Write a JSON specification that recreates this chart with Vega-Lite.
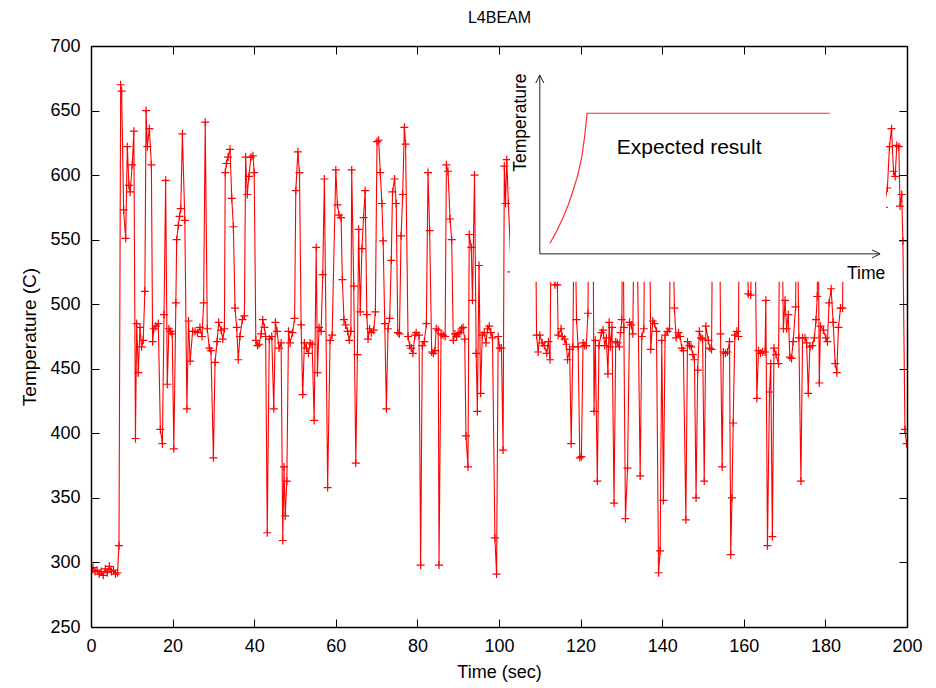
{
  "$schema": "https://vega.github.io/schema/vega-lite/v6.json",
  "width": 816,
  "height": 581,
  "autosize": {"type": "none"},
  "padding": {"left": 91, "top": 46, "right": 29, "bottom": 61},
  "background": "white",
  "config": {
    "view": {"stroke": null},
    "font": "Liberation Sans",
    "axis": {
      "domainColor": "black", "domainWidth": 1.5, "tickColor": "black", "tickWidth": 1,
      "tickSize": -8, "labelFontSize": 18, "titleFontSize": 18, "titleFontWeight": "normal",
      "labelColor": "black", "titleColor": "black", "grid": false,
      "labelFlush": false, "labelOverlap": false, "labelBound": false
    }
  },
  "resolve": {"axis": {"x": "independent", "y": "independent"}},
  "datasets": {
    "series": [
      {"t":0.0,"T":292},{"t":0.5,"T":296},{"t":1.0,"T":293},{"t":1.5,"T":294},{"t":2.0,"T":291},{"t":2.5,"T":293},{"t":3.0,"T":290},{"t":3.5,"T":295},{"t":4.0,"T":292},{"t":4.5,"T":297},{"t":5.0,"T":293},{"t":5.5,"T":294},{"t":6.0,"T":291},{"t":6.5,"T":292},
      {"t":6.86,"T":313},{"t":7.27,"T":670},{"t":7.5,"T":665},{"t":8.0,"T":573},{"t":8.5,"T":551},{"t":8.9,"T":622},{"t":9.3,"T":592},{"t":9.6,"T":587},{"t":10.1,"T":608},{"t":10.5,"T":634},
      {"t":10.9,"T":396},{"t":11.2,"T":485},{"t":11.6,"T":447},{"t":12.0,"T":482},{"t":12.4,"T":467},{"t":12.8,"T":472},{"t":13.2,"T":510},{"t":13.5,"T":650},{"t":13.8,"T":622},{"t":14.3,"T":636},
      {"t":14.8,"T":608},{"t":15.1,"T":471},{"t":15.4,"T":481},{"t":15.9,"T":483},{"t":16.5,"T":485},{"t":17.0,"T":403},{"t":17.5,"T":392},{"t":17.9,"T":492},{"t":18.3,"T":596},{"t":18.7,"T":438},
      {"t":19.1,"T":481},{"t":19.5,"T":479},{"t":19.9,"T":477},{"t":20.3,"T":388},{"t":20.8,"T":501},{"t":21.0,"T":550},{"t":21.4,"T":561},{"t":21.7,"T":568},{"t":22.0,"T":574},{"t":22.4,"T":632},
      {"t":23.0,"T":565},{"t":23.5,"T":419},{"t":23.9,"T":487},{"t":24.3,"T":456},{"t":24.9,"T":479},{"t":25.5,"T":479},{"t":26.1,"T":478},{"t":26.7,"T":482},{"t":27.2,"T":475},{"t":27.6,"T":501},
      {"t":28.0,"T":641},{"t":28.5,"T":481},{"t":29.0,"T":466},{"t":29.4,"T":464},{"t":30.0,"T":381},{"t":30.4,"T":455},{"t":30.9,"T":471},{"t":31.3,"T":486},{"t":31.9,"T":480},{"t":32.3,"T":473},
      {"t":32.7,"T":481},{"t":32.9,"T":602},{"t":33.2,"T":609},{"t":33.6,"T":614},{"t":34.07,"T":620},{"t":34.5,"T":582},{"t":34.9,"T":560},{"t":35.3,"T":497},{"t":35.7,"T":482},{"t":36.1,"T":457},
      {"t":36.5,"T":475},{"t":37.1,"T":488},{"t":37.6,"T":491},{"t":37.9,"T":614},{"t":38.3,"T":585},{"t":38.7,"T":599},{"t":39.2,"T":614},{"t":39.7,"T":615},{"t":40.0,"T":602},{"t":40.4,"T":472},
      {"t":40.8,"T":468},{"t":41.2,"T":469},{"t":41.7,"T":477},{"t":42.1,"T":488},{"t":42.5,"T":482},{"t":42.8,"T":475},{"t":43.2,"T":323},{"t":43.7,"T":473},{"t":44.3,"T":475},{"t":44.8,"T":419},
      {"t":45.2,"T":486},{"t":45.6,"T":479},{"t":46.1,"T":466},{"t":46.6,"T":470},{"t":47.0,"T":317},{"t":47.3,"T":374},{"t":47.6,"T":336},{"t":48.0,"T":363},{"t":48.4,"T":479},{"t":48.8,"T":470},
      {"t":49.4,"T":478},{"t":49.9,"T":489},{"t":50.2,"T":588},{"t":50.7,"T":618},{"t":51.1,"T":602},{"t":51.5,"T":484},{"t":51.9,"T":430},{"t":52.3,"T":470},{"t":52.8,"T":466},{"t":53.3,"T":462},
      {"t":53.7,"T":470},{"t":54.2,"T":469},{"t":54.7,"T":410},{"t":55.2,"T":544},{"t":55.5,"T":447},{"t":55.9,"T":482},{"t":56.4,"T":479},{"t":56.8,"T":523},{"t":57.2,"T":597},{"t":58.0,"T":358},
      {"t":58.6,"T":472},{"t":59.1,"T":476},{"t":60.0,"T":604},{"t":60.4,"T":577},{"t":60.8,"T":569},{"t":61.3,"T":567},{"t":61.6,"T":519},{"t":62.0,"T":488},{"t":62.4,"T":484},{"t":62.9,"T":479},
      {"t":63.3,"T":472},{"t":63.7,"T":479},{"t":63.9,"T":604},{"t":64.4,"T":514},{"t":64.9,"T":377},{"t":65.3,"T":461},{"t":65.6,"T":558},{"t":66.0,"T":494},{"t":66.4,"T":543},{"t":66.8,"T":567},
      {"t":67.2,"T":588},{"t":67.6,"T":492},{"t":67.9,"T":473},{"t":68.3,"T":481},{"t":68.7,"T":478},{"t":69.3,"T":480},{"t":69.7,"T":494},{"t":70.1,"T":626},{"t":70.5,"T":627},{"t":70.9,"T":602},
      {"t":71.3,"T":578},{"t":71.6,"T":549},{"t":72.0,"T":485},{"t":72.4,"T":419},{"t":72.8,"T":481},{"t":73.2,"T":489},{"t":73.6,"T":534},{"t":73.9,"T":587},{"t":74.4,"T":597},{"t":74.8,"T":578},
      {"t":75.2,"T":478},{"t":75.6,"T":477},{"t":76.0,"T":553},{"t":76.4,"T":585},{"t":76.8,"T":637},{"t":77.1,"T":624},{"t":77.7,"T":475},{"t":78.1,"T":468},{"t":78.5,"T":466},{"t":78.9,"T":462},
      {"t":79.4,"T":476},{"t":79.7,"T":478},{"t":80.4,"T":476},{"t":80.8,"T":298},{"t":81.2,"T":468},{"t":81.7,"T":471},{"t":82.2,"T":485},{"t":82.6,"T":602},{"t":83.0,"T":557},{"t":83.5,"T":463},
      {"t":83.9,"T":462},{"t":84.3,"T":464},{"t":84.6,"T":481},{"t":85.1,"T":480},{"t":85.3,"T":298},{"t":85.8,"T":477},{"t":86.3,"T":476},{"t":86.8,"T":475},{"t":87.1,"T":608},{"t":87.5,"T":603},
      {"t":88.0,"T":566},{"t":88.4,"T":550},{"t":88.8,"T":472},{"t":89.2,"T":477},{"t":89.6,"T":475},{"t":90.0,"T":477},{"t":90.4,"T":478},{"t":90.8,"T":481},{"t":91.2,"T":482},{"t":91.6,"T":473},
      {"t":91.9,"T":398},{"t":92.4,"T":374},{"t":92.7,"T":554},{"t":93.2,"T":544},{"t":93.5,"T":503},{"t":94.0,"T":600},{"t":94.4,"T":462},{"t":94.7,"T":417},{"t":95.1,"T":530},{"t":95.5,"T":431},
      {"t":95.9,"T":476},{"t":96.4,"T":478},{"t":96.8,"T":470},{"t":97.2,"T":481},{"t":97.6,"T":483},{"t":98.0,"T":478},{"t":98.4,"T":474},{"t":99.0,"T":319},{"t":99.4,"T":291},{"t":99.8,"T":475},
      {"t":100.2,"T":466},{"t":100.6,"T":466},{"t":101.0,"T":387},{"t":101.3,"T":607},{"t":101.6,"T":578},{"t":101.9,"T":612},{"t":102.3,"T":578},{"t":103.0,"T":525},{"t":103.5,"T":590},{"t":104.5,"T":600},
      {"t":105.5,"T":560},{"t":106.5,"T":610},{"t":107.5,"T":580},{"t":108.5,"T":600},{"t":109.0,"T":560},{"t":109.2,"T":476},{"t":109.6,"T":463},{"t":110.0,"T":476},{"t":110.6,"T":470},{"t":111.1,"T":468},
      {"t":111.7,"T":462},{"t":112.1,"T":471},{"t":112.5,"T":457},{"t":112.9,"T":600},{"t":113.7,"T":515},{"t":114.3,"T":515},{"t":114.5,"T":476},{"t":115.2,"T":481},{"t":115.5,"T":475},{"t":116.1,"T":473},
      {"t":116.5,"T":469},{"t":116.8,"T":457},{"t":117.3,"T":465},{"t":117.7,"T":392},{"t":118.1,"T":467},{"t":118.5,"T":600},{"t":119.0,"T":488},{"t":119.4,"T":467},{"t":119.8,"T":381},{"t":120.2,"T":382},
      {"t":120.6,"T":470},{"t":121.0,"T":468},{"t":121.4,"T":468},{"t":121.8,"T":493},{"t":122.1,"T":600},{"t":122.6,"T":560},{"t":123.0,"T":600},{"t":123.3,"T":417},{"t":123.6,"T":472},{"t":124.1,"T":363},
      {"t":124.5,"T":468},{"t":125.1,"T":478},{"t":125.5,"T":480},{"t":125.9,"T":468},{"t":126.3,"T":474},{"t":126.7,"T":446},{"t":127.0,"T":486},{"t":127.3,"T":467},{"t":127.7,"T":482},{"t":128.2,"T":346},
      {"t":128.6,"T":471},{"t":129.0,"T":470},{"t":129.5,"T":467},{"t":129.8,"T":478},{"t":130.1,"T":488},{"t":130.4,"T":600},{"t":130.6,"T":482},{"t":131.0,"T":334},{"t":131.5,"T":373},{"t":132.0,"T":486},
      {"t":132.4,"T":484},{"t":132.8,"T":477},{"t":133.2,"T":600},{"t":133.8,"T":570},{"t":134.6,"T":367},{"t":135.0,"T":475},{"t":135.5,"T":481},{"t":135.8,"T":600},{"t":136.3,"T":560},{"t":136.8,"T":600},
      {"t":137.2,"T":465},{"t":137.7,"T":487},{"t":138.1,"T":485},{"t":138.6,"T":479},{"t":139.1,"T":292},{"t":139.5,"T":309},{"t":139.9,"T":472},{"t":140.3,"T":348},{"t":140.7,"T":476},{"t":141.3,"T":479},
      {"t":141.8,"T":481},{"t":142.1,"T":600},{"t":142.5,"T":580},{"t":143.0,"T":497},{"t":143.4,"T":474},{"t":144.0,"T":478},{"t":144.4,"T":475},{"t":144.8,"T":466},{"t":145.2,"T":464},{"t":145.8,"T":333},
      {"t":146.2,"T":471},{"t":146.7,"T":468},{"t":147.1,"T":467},{"t":147.5,"T":461},{"t":147.9,"T":457},{"t":148.3,"T":350},{"t":148.7,"T":449},{"t":149.1,"T":479},{"t":149.5,"T":474},{"t":149.9,"T":473},
      {"t":150.3,"T":363},{"t":150.7,"T":483},{"t":151.3,"T":472},{"t":151.7,"T":466},{"t":152.1,"T":465},{"t":152.4,"T":600},{"t":153.2,"T":580},{"t":154.0,"T":600},{"t":154.3,"T":477},{"t":154.7,"T":374},
      {"t":155.0,"T":463},{"t":155.5,"T":462},{"t":156.0,"T":463},{"t":156.5,"T":471},{"t":156.8,"T":306},{"t":157.1,"T":350},{"t":157.4,"T":408},{"t":157.8,"T":476},{"t":158.3,"T":479},{"t":158.7,"T":475},
      {"t":158.9,"T":600},{"t":159.6,"T":570},{"t":160.4,"T":600},{"t":161.1,"T":508},{"t":161.7,"T":507},{"t":162.2,"T":600},{"t":162.7,"T":580},{"t":163.2,"T":427},{"t":163.6,"T":464},{"t":164.1,"T":462},
      {"t":164.6,"T":463},{"t":165.2,"T":463},{"t":165.4,"T":503},{"t":165.8,"T":313},{"t":166.3,"T":432},{"t":166.6,"T":454},{"t":167.0,"T":320},{"t":167.4,"T":466},{"t":167.9,"T":461},{"t":168.5,"T":454},
      {"t":168.9,"T":600},{"t":169.3,"T":580},{"t":169.7,"T":481},{"t":170.1,"T":503},{"t":170.5,"T":481},{"t":170.9,"T":492},{"t":171.3,"T":459},{"t":171.7,"T":458},{"t":172.1,"T":471},{"t":172.7,"T":498},
      {"t":173.0,"T":600},{"t":173.5,"T":474},{"t":174.0,"T":363},{"t":174.4,"T":474},{"t":175.0,"T":474},{"t":175.4,"T":470},{"t":175.8,"T":431},{"t":176.2,"T":467},{"t":176.8,"T":468},{"t":177.3,"T":474},
      {"t":177.7,"T":488},{"t":178.0,"T":506},{"t":178.2,"T":590},{"t":178.5,"T":439},{"t":178.8,"T":483},{"t":179.5,"T":480},{"t":180.1,"T":474},{"t":180.5,"T":471},{"t":180.9,"T":501},{"t":181.4,"T":512},
      {"t":181.9,"T":486},{"t":182.4,"T":454},{"t":182.8,"T":447},{"t":183.2,"T":482},{"t":183.7,"T":497},{"t":184.2,"T":497},{"t":184.6,"T":600},{"t":185.5,"T":620},{"t":186.5,"T":590},{"t":187.5,"T":610},
      {"t":188.5,"T":600},{"t":189.5,"T":630},{"t":190.5,"T":600},{"t":191.5,"T":615},{"t":192.5,"T":590},{"t":193.5,"T":610},{"t":194.3,"T":575},{"t":195.2,"T":590},{"t":195.7,"T":622},{"t":196.2,"T":636},
      {"t":196.7,"T":603},{"t":197.1,"T":599},{"t":197.5,"T":623},{"t":198.0,"T":622},{"t":198.3,"T":576},{"t":198.7,"T":585},{"t":199.0,"T":549},{"t":199.5,"T":403},{"t":199.9,"T":392}
    ]
  },
  "layer": [
    {
      "data": {"name": "series"},
      "mark": {"type": "line", "color": "#ff0000", "strokeWidth": 1.1, "clip": true},
      "encoding": {
        "x": {"field": "t", "type": "quantitative", "scale": {"domain": [0, 200], "nice": false, "zero": false},
          "axis": {"orient": "bottom", "zindex": 1, "values": [0,20,40,60,80,100,120,140,160,180,200], "labelPadding": 18, "title": "Time (sec)", "titlePadding": 8}},
        "y": {"field": "T", "type": "quantitative", "scale": {"domain": [250, 700], "nice": false, "zero": false},
          "axis": {"orient": "left", "zindex": 1, "values": [250,300,350,400,450,500,550,600,650,700], "labelPadding": 19, "title": "Temperature (C)", "titleFontSize": 19, "titlePadding": 10}}
      }
    },
    {
      "data": {"name": "series"},
      "mark": {"type": "point", "shape": "M-1,0H1M0,-1V1", "size": 64, "filled": false, "stroke": "#ff0000", "strokeWidth": 1.2, "opacity": 1, "clip": true},
      "encoding": {
        "x": {"field": "t", "type": "quantitative", "axis": {"orient": "top", "zindex": 1, "values": [0,20,40,60,80,100,120,140,160,180,200], "labels": false, "title": "L4BEAM", "titleFontSize": 16, "titlePadding": 20}},
        "y": {"field": "T", "type": "quantitative", "axis": {"orient": "right", "zindex": 1, "values": [250,300,350,400,450,500,550,600,650,700], "labels": false, "title": null}}
      }
    },
    {
      "data": {"values": [{"x1": 102.7, "x2": 194.85, "y1": 517.4, "y2": 700}]},
      "mark": {"type": "rect", "fill": "white", "stroke": null},
      "encoding": {
        "x": {"field": "x1", "type": "quantitative", "axis": null},
        "x2": {"field": "x2"},
        "y": {"field": "y1", "type": "quantitative", "axis": null},
        "y2": {"field": "y2"}
      }
    },
    {
      "data": {"values": [{"x1": 110, "x2": 110, "y1": 539, "y2": 677.5}, {"x1": 110, "x2": 193.4, "y1": 539, "y2": 539}]},
      "mark": {"type": "rule", "color": "#222222", "strokeWidth": 1},
      "encoding": {
        "x": {"field": "x1", "type": "quantitative", "axis": null},
        "x2": {"field": "x2"},
        "y": {"field": "y1", "type": "quantitative", "axis": null},
        "y2": {"field": "y2"}
      }
    },
    {
      "data": {"values": [{"x": 110, "y": 677.5, "dir": "up"}, {"x": 193.4, "y": 539, "dir": "right"}]},
      "mark": {"type": "point", "filled": false, "size": 256, "stroke": "#222222", "strokeWidth": 1, "opacity": 1},
      "encoding": {
        "x": {"field": "x", "type": "quantitative", "axis": null},
        "y": {"field": "y", "type": "quantitative", "axis": null},
        "shape": {"field": "dir", "type": "nominal", "scale": {"domain": ["up", "right"], "range": ["M-0.5,1L0,0L0.5,1", "M-1,-0.5L0,0L-1,0.5"]}, "legend": null}
      }
    },
    {
      "data": {"values": [
        {"x": 112.5, "y": 547.2}, {"x": 114.2, "y": 557}, {"x": 115.8, "y": 567.8}, {"x": 117.1, "y": 578},
        {"x": 118.2, "y": 588.5}, {"x": 119.3, "y": 600}, {"x": 120.3, "y": 614.3}, {"x": 121.0, "y": 630},
        {"x": 121.6, "y": 647.9}, {"x": 181.1, "y": 647.9}
      ]},
      "mark": {"type": "line", "color": "#ff3030", "strokeWidth": 1.2},
      "encoding": {
        "x": {"field": "x", "type": "quantitative", "axis": null},
        "y": {"field": "y", "type": "quantitative", "axis": null}
      }
    },
    {
      "data": {"values": [{"x": 146.6, "y": 616.3, "label": "Expected result"}]},
      "mark": {"type": "text", "font": "Liberation Sans", "fontSize": 21, "align": "center", "baseline": "alphabetic", "color": "black"},
      "encoding": {
        "x": {"field": "x", "type": "quantitative", "axis": null},
        "y": {"field": "y", "type": "quantitative", "axis": null},
        "text": {"field": "label"}
      }
    },
    {
      "data": {"values": [{"x": 106.5, "y": 640.7, "label": "Temperature"}]},
      "mark": {"type": "text", "font": "Liberation Sans", "fontSize": 17.5, "align": "center", "baseline": "alphabetic", "angle": 270, "color": "black"},
      "encoding": {
        "x": {"field": "x", "type": "quantitative", "axis": null},
        "y": {"field": "y", "type": "quantitative", "axis": null},
        "text": {"field": "label"}
      }
    },
    {
      "data": {"values": [{"x": 190, "y": 519.3, "label": "Time"}]},
      "mark": {"type": "text", "font": "Liberation Sans", "fontSize": 17.5, "align": "center", "baseline": "alphabetic", "color": "black"},
      "encoding": {
        "x": {"field": "x", "type": "quantitative", "axis": null},
        "y": {"field": "y", "type": "quantitative", "axis": null},
        "text": {"field": "label"}
      }
    }
  ]
}
